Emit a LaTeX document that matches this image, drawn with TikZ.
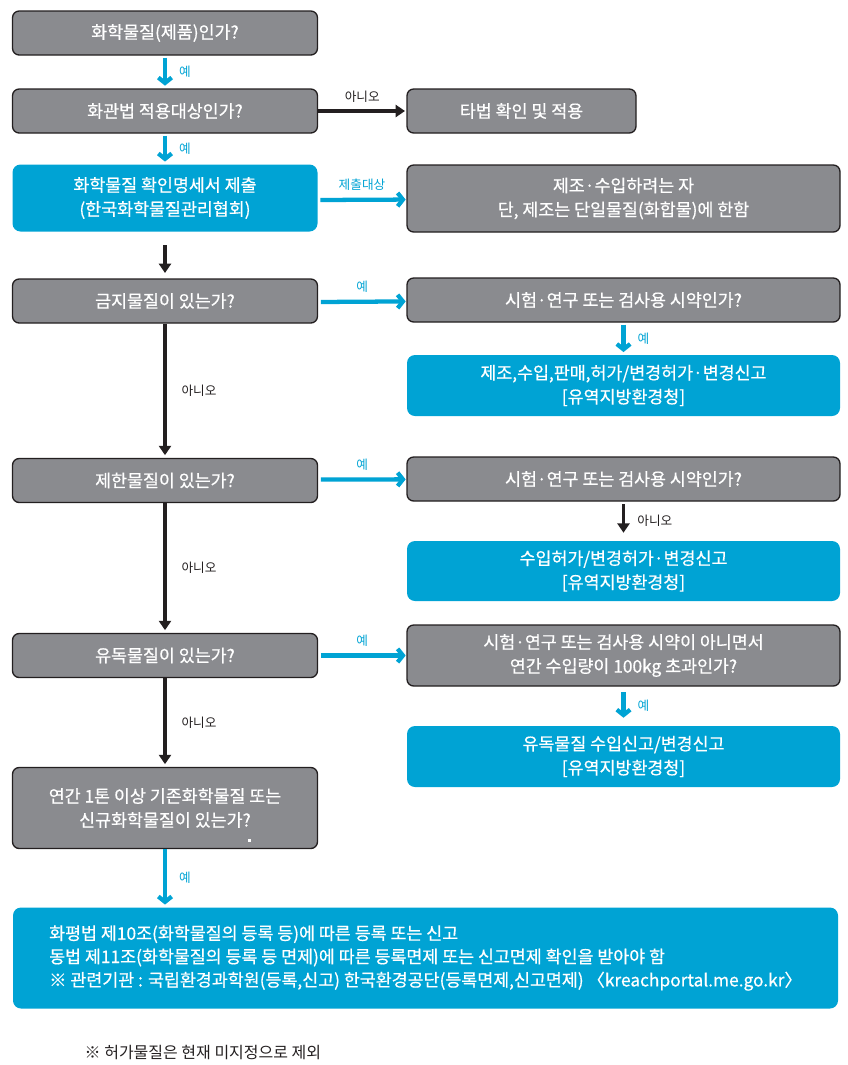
\documentclass[tikz,border=0pt]{standalone}
\usepackage{fontspec}
\setmainfont{Noto Sans CJK KR}
\newfontfamily\boxfont[FakeBold=0.6]{Noto Sans CJK KR}
\usepackage{xcolor}
\usepackage{tikz}
\usetikzlibrary{arrows.meta}
\definecolor{boxgray}{RGB}{138,139,143}
\definecolor{boxblue}{RGB}{0,163,212}
\definecolor{lineblack}{RGB}{35,31,32}
\tikzstyle{question} = [rectangle, rounded corners=5pt, minimum width=228.75pt, minimum height=33pt, align=center, draw=lineblack, line width=1pt, fill=boxgray, text=white, font=\boxfont\fontsize{13}{18}\selectfont]
\tikzstyle{result} = [rectangle, rounded corners=6pt, minimum width=324.75pt, minimum height=44.25pt, align=center, fill=boxblue, text=white, font=\boxfont\fontsize{13}{18}\selectfont]
\tikzstyle{yesarrow} = [line width=3.2pt, draw=boxblue, -{Straight Barb[length=4pt,width=10pt]}]
\tikzstyle{noarrow} = [line width=2.8pt, draw=lineblack, -{Triangle[length=7pt,width=9pt]}]
\tikzstyle{yeslabel} = [text=boxblue, inner sep=1pt, font=\fontsize{9.5}{10}\selectfont]
\tikzstyle{nolabel} = [text=lineblack, inner sep=1pt, font=\fontsize{9.5}{10}\selectfont]

\begin{document}
\begin{tikzpicture}[x=0.75pt, y=-0.75pt]
	\useasboundingbox (0,0) rectangle (847,1065);

	\node (chem) [question] at (165,33) {화학물질(제품)인가?};
	\node (law) [question] at (165,111) {화관법 적용대상인가?};
	\node (other) [question, minimum width=171.75pt] at (521.5,111) {타법 확인 및 적용};
	\node (msds) [result, minimum width=228.75pt, minimum height=50.25pt] at (165,198) {화학물질 확인명세서 제출\\(한국화학물질관리협회)};
	\node (maker) [question, minimum width=324.75pt, minimum height=50.25pt] at (623.5,198.5) {제조·수입하려는 자\\단, 제조는 단일물질(화합물)에 한함};

	\node (ban) [question] at (165,301) {금지물질이 있는가?};
	\node (bantest) [question, minimum width=324.75pt] at (623.5,300) {시험·연구 또는 검사용 시약인가?};
	\node (banok) [result, minimum height=45.75pt] at (623.5,385.5) {제조,수입,판매,허가/변경허가·변경신고\\{[}유역지방환경청{]}};

	\node (limit) [question] at (165,480.5) {제한물질이 있는가?};
	\node (limittest) [question, minimum width=324.75pt] at (623.5,479) {시험·연구 또는 검사용 시약인가?};
	\node (limitok) [result, minimum height=45pt] at (623.5,571) {수입허가/변경허가·변경신고\\{[}유역지방환경청{]}};

	\node (toxic) [question] at (165,655.5) {유독물질이 있는가?};
	\node (toxictest) [question, minimum width=324.75pt, minimum height=45.75pt] at (623.5,655.5) {시험·연구 또는 검사용 시약이 아니면서\\연간 수입량이 100kg 초과인가?};
	\node (toxicok) [result, minimum height=45.75pt] at (623.5,756.5) {유독물질 수입신고/변경신고\\{[}유역지방환경청{]}};

	\node (ton) [question, minimum height=60.75pt] at (165,808) {연간 1톤 이상 기존화학물질 또는\\신규화학물질이 있는가?};
	\fill [white] (247.5,838.5) rectangle (250.5,841.5);
	\node (reg) [result, align=left, minimum width=618.75pt, minimum height=75.75pt, font=\boxfont\fontsize{13}{17.5}\selectfont] at (425.5,958) {화평법 제10조(화학물질의 등록 등)에 따른 등록 또는 신고\\동법 제11조(화학물질의 등록 등 면제)에 따른 등록면제 또는 신고면제 확인을 받아야 함\\※ 관련기관 : 국립환경과학원(등록,신고) 한국환경공단(등록면제,신고면제) 〈kreachportal.me.go.kr〉};

	\node (note) [anchor=west, text=lineblack, font=\fontsize{12}{13}\selectfont] at (80,1053) {※ 허가물질은 현재 미지정으로 제외};

	\draw [yesarrow, shorten <=1.5pt, shorten >=2pt] (chem) -- (law) node [yeslabel, midway, right=8pt] {예};
	\draw [noarrow, shorten >=1pt] (law) -- (other) node [nolabel, midway, above=4pt] {아니오};
	\draw [yesarrow, shorten <=1.5pt, shorten >=2pt] (law) -- (msds) node [yeslabel, midway, right=8pt] {예};
	\draw [yesarrow, shorten <=2pt, shorten >=0.5pt] (msds.east |- maker) ++(0,1.5) -- (maker) node [yeslabel, midway, above=4pt] {제출대상};
	\draw [noarrow, shorten <=10pt, shorten >=4pt] (msds) -- (ban);

	\draw [yesarrow, shorten <=2pt, shorten >=0.5pt] (ban.east) ++(0,1) -- (bantest) node [yeslabel, midway, above=4pt] {예};
	\draw [yesarrow, shorten <=1.5pt, shorten >=2pt] (bantest) -- (banok) node [yeslabel, midway, right=8pt] {예};
	\draw [noarrow, shorten >=2pt] (ban) -- (limit) node [nolabel, midway, right=10pt] {아니오};

	\draw [yesarrow, shorten <=2pt, shorten >=0.5pt] (limit.east) ++(0,-1) -- (limittest) node [yeslabel, midway, above=4pt] {예};
	\draw [noarrow, shorten <=2pt, shorten >=6pt] (limittest) -- (limitok) node [nolabel, midway, right=8pt] {아니오};
	\draw [noarrow, shorten >=2pt] (limit) -- (toxic) node [nolabel, midway, right=10pt] {아니오};

	\draw [yesarrow, shorten <=2pt, shorten >=0.5pt] (toxic) -- (toxictest) node [yeslabel, midway, above=4pt] {예};
	\draw [yesarrow, shorten <=4pt, shorten >=6pt] (toxictest) -- (toxicok) node [yeslabel, midway, right=8pt] {예};
	\draw [noarrow, shorten >=2pt] (toxic) -- (ton) node [nolabel, midway, right=10pt] {아니오};

	\draw [yesarrow, shorten >=2pt] (ton) -- (reg.north -| ton) node [yeslabel, midway, right=8pt] {예};

\end{tikzpicture}
\end{document}
